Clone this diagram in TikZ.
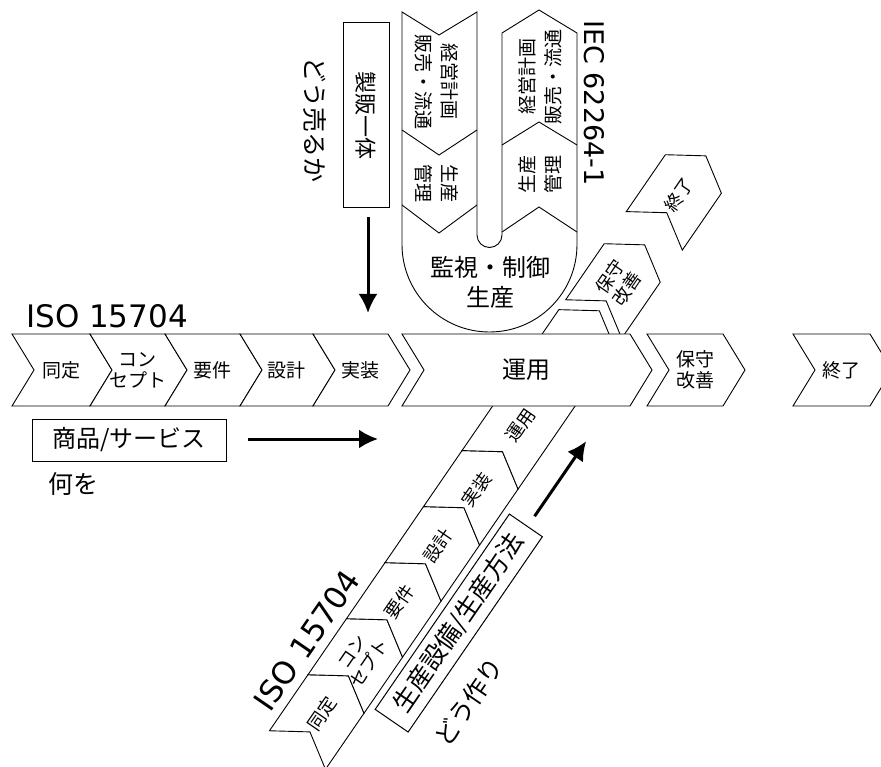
\documentclass[tikz,border=0pt]{standalone}
\usepackage{fontspec}
\setmainfont{Noto Sans CJK JP}
\newfontfamily\latinfont{DejaVu Sans}
\usetikzlibrary{arrows.meta}
\tikzset{
  chevbox/.style={draw=black, fill=white, line width=0.9pt, line join=miter},
  chevline/.style={draw=black, line width=0.9pt},
  lab/.style={inner sep=0pt, align=center, font=\fontsize{19}{21}\selectfont},
  dlab/.style={inner sep=0pt, align=center, font=\fontsize{18}{20}\selectfont},
  collab/.style={inner sep=0pt, align=center, font=\fontsize{19}{26}\selectfont},
  biglab/.style={inner sep=0pt, align=center, font=\fontsize{24}{30}\selectfont},
  isolab/.style={inner sep=0pt, font=\latinfont\fontsize{31}{31}\selectfont},
  bigarrow/.style={line width=3pt, -{Latex[length=19pt,width=19pt]}},
  framebox/.style={draw=black, line width=1pt, fill=white, inner sep=0pt},
}
\newcommand{\chev}[4]{\draw[chevbox] (#1,#3) -- (#2,#3) -- ({#2+#4},0) -- (#2,-#3) -- (#1,-#3) -- ({#1+#4},0) -- cycle;}
\begin{document}
\begin{tikzpicture}[x=1pt,y=1pt]
\useasboundingbox (0,0) rectangle (881,-767);
\fill[white] (0,0) rectangle (881,-767);

% ---------- diagonal ISO 15704 row ----------
\begin{scope}[shift={(502.5,-451.7)}, rotate=55.5, transform shape]
  \chev{-362}{-294}{34}{22}
  \chev{-294}{-226}{34}{22}
  \chev{-226}{-158}{34}{22}
  \chev{-158}{-90}{34}{22}
  \chev{-90}{-22}{34}{22}
  \chev{-22}{149}{34}{22}
  \chev{161}{229}{34}{22}
  \chev{268}{337}{34}{22}
  \node[dlab] (d1) at (-318,0) {同定};
  \node[dlab] (d2) at (-250,0) {コン\\セプト};
  \node[dlab] (d3) at (-182,0) {要件};
  \node[dlab] (d4) at (-114,0) {設計};
  \node[dlab] (d5) at (-46,0) {実装};
  \node[dlab] (d6) at (32,0) {運用};
  \node[dlab] (d7) at (205,0) {保守\\改善};
  \node[dlab] (d8) at (312,0) {終了};
  \node[isolab] (diso) at (-266,54.5) {ISO 15704};
  \node[framebox, minimum width=237pt, minimum height=40pt,
        font=\fontsize{25}{25}\selectfont] (dbox) at (-166,-61) {生産設備/生産方法};
  \node[inner sep=0pt, font=\fontsize{25}{25}\selectfont] (dhow) at (-225,-114) {どう作り};
  \coordinate (da1) at (-35,-63);
  \coordinate (da2) at (56,-63);
  \draw[bigarrow] (da1) -- (da2);
\end{scope}

% ---------- IEC 62264-1 U shape ----------
\draw[chevbox] (402,-12) -- (439,-35) -- (477,-12) -- (477,-235)
  arc[start angle=180, end angle=360, radius=12.5] -- (502,-33) -- (539,-10) -- (577,-33)
  -- (577,-244.5) arc[start angle=0, end angle=-180, radius=87.5] -- cycle;
\draw[chevline] (402,-130) -- (439,-155) -- (477,-130);
\draw[chevline] (402,-205) -- (439,-233) -- (477,-205);
\draw[chevline] (502,-145) -- (539,-122) -- (577,-145);
\draw[chevline] (502,-232) -- (539,-207) -- (577,-232);
\node[collab, rotate=-90] (l1) at (437,-82) {経営計画\\販売・流通};
\node[collab, rotate=-90] (l2) at (437,-184) {生産\\管理};
\node[collab, rotate=90] (r1) at (540,-77) {経営計画\\販売・流通};
\node[collab, rotate=90] (r2) at (540,-175) {生産\\管理};
\node[biglab] (mon) at (490,-282) {監視・制御\\生産};
\node[inner sep=0pt, rotate=-90, font=\latinfont\fontsize{27}{27}\selectfont] (iec) at (594,-103) {IEC 62264-1};

% ---------- horizontal ISO 15704 row ----------
\begin{scope}[shift={(0,-370)}]
  \chev{12}{90}{36}{22}
  \chev{90}{165}{36}{22}
  \chev{165}{240}{36}{22}
  \chev{240}{313}{36}{22}
  \chev{313}{388}{36}{22}
  \chev{402}{630}{36}{22}
  \chev{647}{723}{36}{22}
  \chev{793}{870}{36}{22}
  \node[lab] (h1) at (61,0) {同定};
  \node[lab] (h2) at (137.5,0) {コン\\セプト};
  \node[lab] (h3) at (212.5,0) {要件};
  \node[lab] (h4) at (286.5,0) {設計};
  \node[lab] (h5) at (360.5,0) {実装};
  \node[inner sep=0pt, font=\fontsize{24}{24}\selectfont] (h6) at (526,0) {運用};
  \node[lab] (h7) at (695,0) {保守\\改善};
  \node[lab] (h8) at (841.5,0) {終了};
\end{scope}
\node[isolab, anchor=base west] (hiso) at (26,-327) {ISO 15704};

% ---------- boxes, labels, arrows ----------
\node[framebox, rotate=-90, minimum width=185pt, minimum height=46pt,
      font=\fontsize{22}{22}\selectfont] (seihan) at (366,-115.5) {製販一体};
\node[inner sep=0pt, rotate=-90, font=\fontsize{25}{25}\selectfont] (dou) at (315,-120) {どう売るか};
\coordinate (va1) at (368,-217);
\coordinate (va2) at (368,-313);
\draw[bigarrow] (va1) -- (va2);

\node[framebox, minimum width=194pt, minimum height=42pt,
      font=\fontsize{24}{24}\selectfont] (shohin) at (129,-440) {商品/サービス};
\node[inner sep=0pt, font=\fontsize{25}{25}\selectfont] (nani) at (73,-484) {何を};
\coordinate (ha1) at (248,-439);
\coordinate (ha2) at (378,-439);
\draw[bigarrow] (ha1) -- (ha2);
\end{tikzpicture}
\end{document}
